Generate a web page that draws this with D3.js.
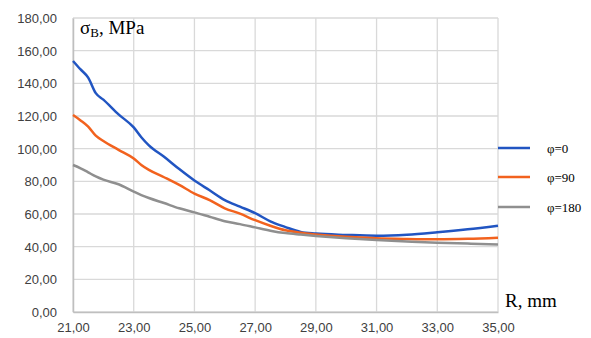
<!DOCTYPE html>
<html>
<head>
<meta charset="utf-8">
<script src="https://cdn.jsdelivr.net/npm/d3@7/dist/d3.min.js"></script>
<style>
  html, body { margin: 0; padding: 0; background: #fff; }
  svg { display: block; }
</style>
</head>
<body>
<svg id="chart" width="591" height="338"></svg>
<script>
// Radius R, mm
const radius = [21, 21.25, 21.5, 21.75, 22, 22.5, 23, 23.25, 23.5, 24, 24.5, 25, 25.5, 26, 26.5, 27, 27.5, 28, 28.5, 29, 30, 31, 32, 33, 34, 35];
// Strength σB, MPa for each angle φ
const phi0   = [153.7, 148.5, 143.5, 134, 130, 121, 113, 107, 102, 95, 87.5, 80.5, 74.5, 68.5, 64.5, 60.5, 55.5, 52, 49, 48, 47.2, 46.7, 47.3, 48.8, 50.6, 52.8];
const phi90  = [120.6, 117.3, 113.5, 108, 104.7, 99.3, 94, 90, 87, 82.5, 77.8, 72.5, 68.5, 63.5, 60.2, 56.2, 52.8, 50, 48.5, 47.5, 46, 45.1, 44.7, 44.5, 44.8, 45.5];
const phi180 = [90, 88, 85.5, 83, 81, 78.2, 73.7, 71.6, 69.8, 66.7, 63.5, 61, 58.3, 55.6, 53.8, 51.8, 49.8, 48.3, 47.4, 46.6, 45.2, 44.1, 43.2, 42.4, 41.9, 41.4];
const seriesNames = ["φ=0", "φ=90", "φ=180"];
const seriesColors = ["#2155C2", "#F2621E", "#8F8F8F"];
const xTicks = [21, 23, 25, 27, 29, 31, 33, 35];
const yTicks = [0, 20, 40, 60, 80, 100, 120, 140, 160, 180];

const svg = d3.select("#chart");
const plotLeft = 73, plotRight = 498, plotTop = 18, plotBottom = 312;

const x = d3.scaleLinear().domain([21, 35]).range([plotLeft, plotRight]);
const y = d3.scaleLinear().domain([0, 180]).range([plotBottom, plotTop]);
const fmt = v => v.toFixed(2).replace(".", ",");

// grid
const grid = svg.append("g");
grid.selectAll("line.h").data(yTicks).join("line").attr("class", "h")
  .attr("x1", plotLeft).attr("x2", plotRight)
  .attr("y1", d => y(d)).attr("y2", d => y(d))
  .attr("stroke", "#d9d9d9").attr("stroke-width", 1.3);
grid.selectAll("line.v").data(xTicks).join("line").attr("class", "v")
  .attr("y1", plotTop).attr("y2", plotBottom)
  .attr("x1", d => x(d)).attr("x2", d => x(d))
  .attr("stroke", "#d9d9d9").attr("stroke-width", 1.3);

// axes
const xAxis = d3.axisBottom(x).tickValues(xTicks).tickFormat(fmt).tickSize(0).tickPadding(11);
const yAxis = d3.axisLeft(y).tickValues(yTicks).tickFormat(fmt).tickSize(0).tickPadding(16);
const gx = svg.append("g").attr("transform", `translate(0,${plotBottom})`).call(xAxis);
const gy = svg.append("g").attr("transform", `translate(${plotLeft},0)`).call(yAxis);
[gx, gy].forEach(g => {
  g.select(".domain").attr("stroke", "#bfbfbf").attr("stroke-width", 1.5);
  g.selectAll("text").attr("fill", "#404040")
    .style("font-family", "'Liberation Sans', Arial, sans-serif").style("font-size", "13px");
});
gy.selectAll("text").attr("dy", "0.35em");

// lines
const data = [phi0, phi90, phi180];
const line = d3.line().x((d, i) => x(radius[i])).y(d => y(d)).curve(d3.curveMonotoneX);
svg.append("g").selectAll("path").data(data).join("path")
  .attr("d", line)
  .attr("fill", "none")
  .attr("stroke", (d, i) => seriesColors[i])
  .attr("stroke-width", 2.5)
  .attr("stroke-linejoin", "round");

// axis titles
const t1 = svg.append("text").attr("x", 80).attr("y", 34)
  .style("font-family", "'Liberation Serif', 'Times New Roman', serif").style("font-size", "19px").attr("fill", "#000");
t1.append("tspan").text("σ");
t1.append("tspan").text("B").attr("dy", 3).style("font-size", "13px");
t1.append("tspan").text(", MPa").attr("dy", -3);

svg.append("text").attr("x", 505).attr("y", 307).text("R, mm")
  .style("font-family", "'Liberation Serif', 'Times New Roman', serif").style("font-size", "19px").attr("fill", "#000");

// legend
const legendY = [148, 177, 207];
const lg = svg.append("g");
seriesNames.forEach((name, i) => {
  lg.append("line").attr("x1", 498).attr("x2", 530)
    .attr("y1", legendY[i]).attr("y2", legendY[i])
    .attr("stroke", seriesColors[i]).attr("stroke-width", 2.5);
  lg.append("text").attr("x", 547).attr("y", legendY[i]).attr("dy", "0.35em").text(name)
    .style("font-family", "'Liberation Serif', 'Times New Roman', serif").style("font-size", "13px").attr("fill", "#000");
});
</script>
</body>
</html>
